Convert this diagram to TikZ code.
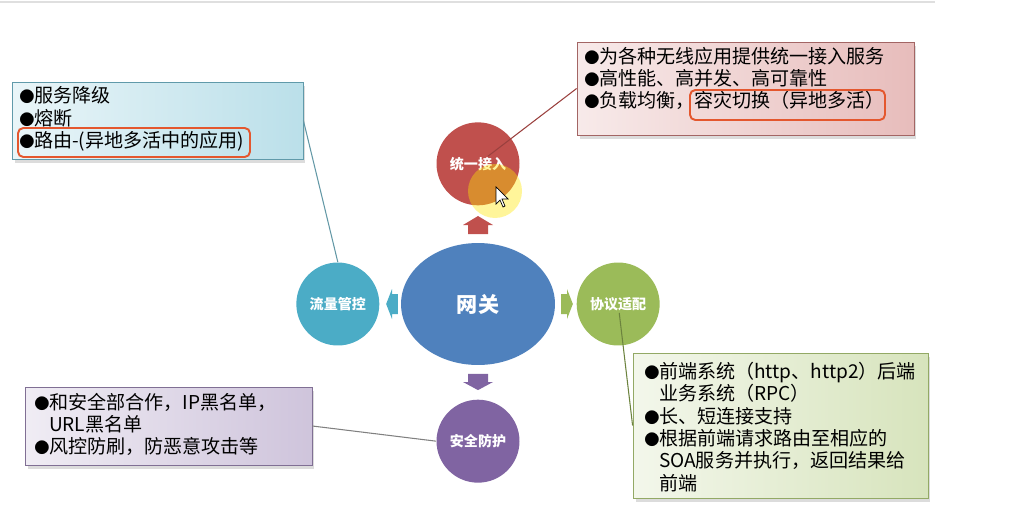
\documentclass[tikz,border=0pt]{standalone}
\usepackage{fontspec}
\setmainfont{Noto Sans CJK SC}
\usepackage{xcolor}
\usepackage{tikz}
\usetikzlibrary{positioning,shapes.geometric,shadows,calc}

\definecolor{gwblue}{HTML}{4F81BD}
\definecolor{accred}{HTML}{C0504D}
\definecolor{flowcyan}{HTML}{4BACC6}
\definecolor{protogreen}{HTML}{9BBB59}
\definecolor{secpurple}{HTML}{8064A2}
\definecolor{hlred}{HTML}{E4572E}

\newcommand{\bul}{\makebox[0.74em][c]{\scalebox{0.8}{●}}}
\newcommand{\cont}{\hspace*{0.74em}}

\begin{document}
\begin{tikzpicture}[x=0.02cm,y=-0.02cm,
            node distance=0.7cm,
            hub/.style={circle,minimum size=1.66cm,inner sep=0pt,text=white,font=\bfseries\fontsize{8}{9}\selectfont},
            notebox/.style={rectangle,draw,line width=0.5pt,drop shadow={opacity=0.28,shadow xshift=0.05cm,shadow yshift=-0.08cm}},
            note/.style={inner sep=0pt,anchor=north west,align=left,font=\fontsize{10.85}{12.76}\selectfont},
            hlbox/.style={draw=hlred,line width=1.1pt,rounded corners=3pt},
            link/.style={line width=0.6pt},
            blockarr/.pic={\path[pic actions] (-10,9) -- (-10,0) -- (-15,0) -- (0,-9) -- (15,0) -- (10,0) -- (10,9) -- cycle;}]
            \useasboundingbox (0,0) rectangle (1013,521);
            \draw[gray!25,line width=0.8pt] (0,2) -- (935,2);
            % centre and the four functions
            \node[ellipse,fill=gwblue,minimum width=3.08cm,minimum height=2.44cm,inner sep=0pt,text=white,font=\bfseries\fontsize{12}{14}\selectfont] (gw) at (478,304) {网关};
            \node[hub,fill=accred,above=0.74cm of gw] (acc) {统一接入};
            \node[hub,fill=flowcyan,left=0.42cm of gw] (flow) {流量管控};
            \node[hub,fill=protogreen,right=0.42cm of gw] (proto) {协议适配};
            \node[hub,fill=secpurple,below=0.68cm of gw] (sec) {安全防护};
            \pic[fill=accred] at (478,225) {blockarr};
            \pic[fill=secpurple,rotate=180,yscale=0.9] at (478,382) {blockarr};
            \pic[fill=flowcyan,rotate=90,yscale=0.65] at (392,304) {blockarr};
            \pic[fill=protogreen,rotate=-90,yscale=0.65] at (567,304) {blockarr};
            % note boxes
            \node[notebox,draw=flowcyan!60!gray,left color=flowcyan!12,right color=flowcyan!38,minimum width=5.82cm,minimum height=1.54cm] (flowbox) at (157.5,120.5) {};
            \node[note] (flowtxt) at ([shift={(8,5)}]flowbox.north west) {\bul 服务降级\\ \bul 熔断\\ \bul 路由-(异地多活中的应用)};
            \node[notebox,draw=accred!55!gray,left color=accred!12,right color=accred!38,minimum width=6.74cm,minimum height=1.86cm] (accbox) at (745.5,88.5) {};
            \node[note] (acctxt) at ([shift={(8,5)}]accbox.north west) {\bul 为各种无线应用提供统一接入服务\\ \bul 高性能、高并发、高可靠性\\ \bul 负载均衡，容灾切换（异地多活）};
            \node[notebox,draw=secpurple!60!gray,left color=secpurple!12,right color=secpurple!38,minimum width=5.74cm,minimum height=1.56cm] (secbox) at (168.5,426) {};
            \node[note] (sectxt) at ([shift={(10,6)}]secbox.north west) {\bul 和安全部合作，IP黑名单，\\ \cont URL黑名单\\ \bul 风控防刷，防恶意攻击等};
            \node[notebox,draw=protogreen!70!gray,left color=protogreen!12,right color=protogreen!40,minimum width=5.9cm,minimum height=2.9cm] (protobox) at (780.5,425.5) {};
            \node[note] (prototxt) at ([shift={(12,9)}]protobox.north west) {\bul 前端系统（http、http2）后端\\ \cont 业务系统（RPC）\\ \bul 长、短连接支持\\ \bul 根据前端请求路由至相应的\\ \cont SOA服务并执行，返回结果给\\ \cont 前端};
            % highlights
            \draw[hlbox] (18,128) rectangle (250,157);
            \draw[hlbox] (690,90) rectangle (885,120);
            % connectors
            \draw[link,flowcyan!55!gray] (flowbox.east) -- (flow.north);
            \draw[link,accred!80!black] (accbox.west) -- ($(acc.center)!0.1!(accbox.west)$);
            \draw[link,gray] (secbox.east) -- (sec.west);
            \draw[link,protogreen!70!black,shorten <=0.18cm] (proto.center) -- (protobox.west);
            % pointer
            \fill[yellow!90!orange,opacity=0.4] (495,191) circle [radius=0.54cm];
            \filldraw[fill=white,draw=black,line width=0.4pt] (496,187) -- (496,204) -- (500,200) -- (503,207) -- (505,206) -- (502,199) -- (508,199) -- cycle;
        \end{tikzpicture}
\end{document}
